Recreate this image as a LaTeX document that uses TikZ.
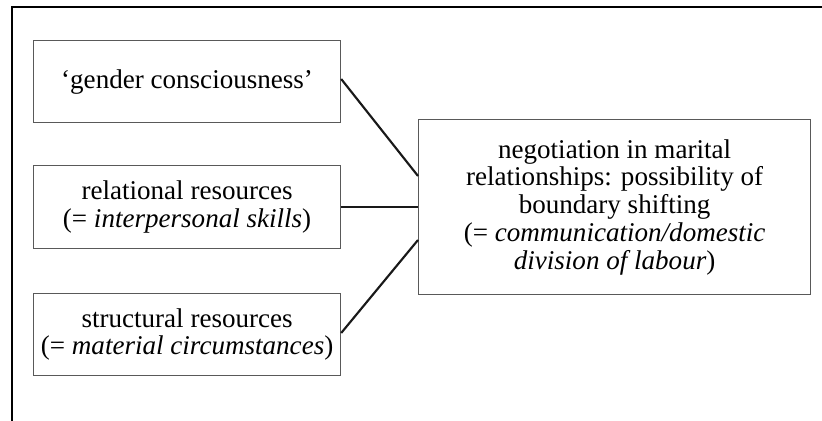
\documentclass[tikz,border=0pt]{standalone}
\usepackage{fontspec}
\setmainfont{Liberation Serif}
\begin{document}
\begin{tikzpicture}[x=0.75pt,y=-0.75pt,
  box/.style={draw=black!65,line width=0.9pt,inner sep=0pt,align=center,font=\fontsize{20.3}{20.8}\selectfont},
  link/.style={draw=black!90,line width=1.6pt}]
\useasboundingbox (0,0) rectangle (822,421);
\draw[line width=1.3pt] (12,421) -- (12,7) -- (822,7);
\node[box,minimum width=230.25pt,minimum height=61.5pt,anchor=north west] (g) at (33,40) {`gender consciousness'};
\node[box,minimum width=230.25pt,minimum height=62.25pt,anchor=north west] (r) at (33,165) {relational resources\\(= \textit{interpersonal skills})};
\node[box,minimum width=230.25pt,minimum height=61.5pt,anchor=north west] (s) at (33,293) {structural resources\\(= \textit{material circumstances})};
\node[box,minimum width=294pt,minimum height=131.25pt,anchor=north west] (n) at (418,119) {negotiation in marital\\relationships: possibility of\\boundary shifting\\(= \textit{communication/domestic}\\\textit{division of labour})};
\coordinate (g1) at (339,79);
\draw[link] (g.north east |- g1) -- (n.west |- 0,176);
\draw[link] (r.east) -- (r.east -| n.west);
\draw[link] (s.east |- 0,333) -- (n.west |- 0,240);
\end{tikzpicture}
\end{document}
